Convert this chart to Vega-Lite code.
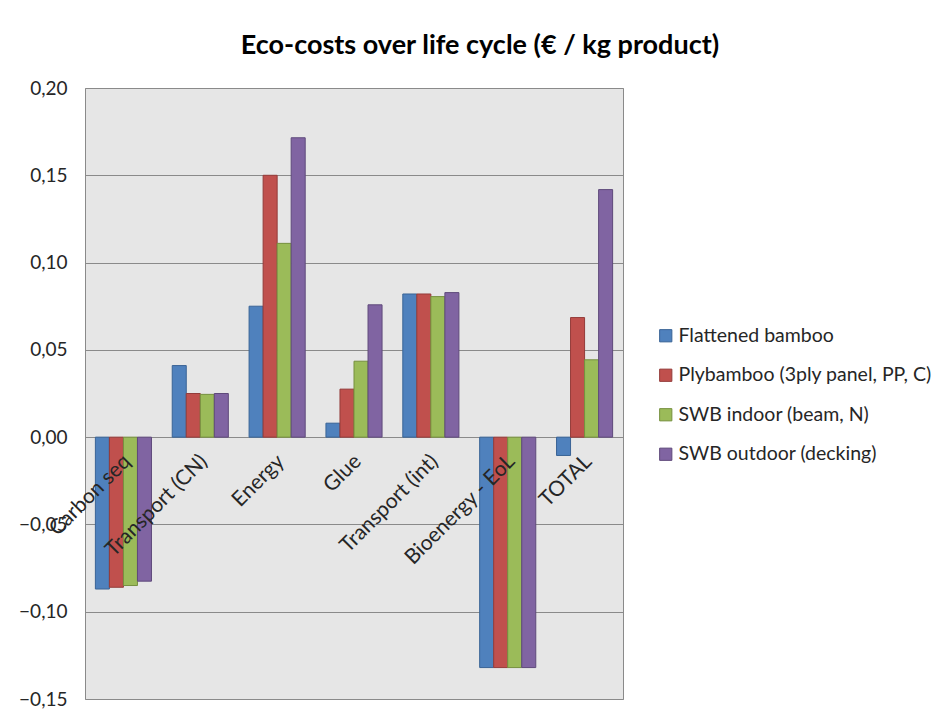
{
  "$schema": "https://vega.github.io/schema/vega-lite/v6.json",
  "autosize": {"type": "none"},
  "padding": {"left": 85, "top": 88, "right": 323, "bottom": 16},
  "width": 538,
  "height": 611,
  "background": "white",
  "title": {
    "text": "Eco-costs over life cycle (€ / kg product)",
    "font": "Lato",
    "fontSize": 27,
    "fontWeight": "bold",
    "color": "#000000",
    "anchor": "middle",
    "frame": "group",
    "dx": 126,
    "offset": 19
  },
  "config": {
    "view": {"fill": "#e6e6e6", "stroke": "#8a8a8a", "strokeWidth": 1},
    "font": "Lato"
  },
  "data": {
    "values": [
      {"category": "Carbon seq", "product": "Flattened bamboo", "value": -0.087},
      {"category": "Carbon seq", "product": "Plybamboo (3ply panel, PP, C)", "value": -0.086},
      {"category": "Carbon seq", "product": "SWB indoor (beam, N)", "value": -0.085},
      {"category": "Carbon seq", "product": "SWB outdoor (decking)", "value": -0.0825},
      {"category": "Transport (CN)", "product": "Flattened bamboo", "value": 0.041},
      {"category": "Transport (CN)", "product": "Plybamboo (3ply panel, PP, C)", "value": 0.025},
      {"category": "Transport (CN)", "product": "SWB indoor (beam, N)", "value": 0.0245},
      {"category": "Transport (CN)", "product": "SWB outdoor (decking)", "value": 0.025},
      {"category": "Energy", "product": "Flattened bamboo", "value": 0.075},
      {"category": "Energy", "product": "Plybamboo (3ply panel, PP, C)", "value": 0.150},
      {"category": "Energy", "product": "SWB indoor (beam, N)", "value": 0.111},
      {"category": "Energy", "product": "SWB outdoor (decking)", "value": 0.1715},
      {"category": "Glue", "product": "Flattened bamboo", "value": 0.008},
      {"category": "Glue", "product": "Plybamboo (3ply panel, PP, C)", "value": 0.0275},
      {"category": "Glue", "product": "SWB indoor (beam, N)", "value": 0.0435},
      {"category": "Glue", "product": "SWB outdoor (decking)", "value": 0.0758},
      {"category": "Transport (int)", "product": "Flattened bamboo", "value": 0.082},
      {"category": "Transport (int)", "product": "Plybamboo (3ply panel, PP, C)", "value": 0.082},
      {"category": "Transport (int)", "product": "SWB indoor (beam, N)", "value": 0.0805},
      {"category": "Transport (int)", "product": "SWB outdoor (decking)", "value": 0.0828},
      {"category": "Bioenergy - EoL", "product": "Flattened bamboo", "value": -0.132},
      {"category": "Bioenergy - EoL", "product": "Plybamboo (3ply panel, PP, C)", "value": -0.132},
      {"category": "Bioenergy - EoL", "product": "SWB indoor (beam, N)", "value": -0.132},
      {"category": "Bioenergy - EoL", "product": "SWB outdoor (decking)", "value": -0.132},
      {"category": "TOTAL", "product": "Flattened bamboo", "value": -0.0105},
      {"category": "TOTAL", "product": "Plybamboo (3ply panel, PP, C)", "value": 0.0685},
      {"category": "TOTAL", "product": "SWB indoor (beam, N)", "value": 0.0443},
      {"category": "TOTAL", "product": "SWB outdoor (decking)", "value": 0.1418}
    ]
  },
  "mark": {"type": "bar", "strokeWidth": 1},
  "encoding": {
    "x": {
      "field": "category",
      "type": "nominal",
      "sort": null,
      "scale": {"paddingInner": 0.27, "paddingOuter": 0.135},
      "axis": {
        "title": null,
        "orient": "bottom",
        "offset": -262,
        "zindex": 1,
        "domain": false,
        "ticks": false,
        "labelAngle": -45,
        "labelAlign": "right",
        "labelBaseline": "middle",
        "labelPadding": 21,
        "labelOffset": 4,
        "labelFont": "Lato",
        "labelFontSize": 21,
        "labelColor": "#262626",
        "labelOverlap": false,
        "labelLimit": 400
      }
    },
    "xOffset": {
      "field": "product",
      "type": "nominal",
      "sort": null,
      "scale": {"paddingInner": 0, "paddingOuter": 0}
    },
    "y": {
      "field": "value",
      "type": "quantitative",
      "scale": {"domain": [-0.15, 0.2], "nice": false, "zero": false},
      "axis": {
        "title": null,
        "values": [-0.15, -0.1, -0.05, 0, 0.05, 0.1, 0.15, 0.2],
        "labelExpr": "replace(format(datum.value, '.2f'), '.', ',')",
        "domain": false,
        "ticks": false,
        "grid": true,
        "gridColor": "#8a8a8a",
        "gridWidth": 1,
        "gridOpacity": 1,
        "labelFont": "Lato",
        "labelFontSize": 19,
        "labelColor": "#262626",
        "labelPadding": 18
      }
    },
    "color": {
      "field": "product",
      "type": "nominal",
      "sort": null,
      "scale": {"range": ["#4f81bd", "#c0504d", "#9bbb59", "#8064a2"]},
      "legend": {
        "title": null,
        "orient": "none",
        "legendX": 571,
        "legendY": 238,
        "symbolType": "square",
        "symbolSize": 150,
        "symbolStrokeWidth": 1,
        "labelFont": "Lato",
        "labelFontSize": 19.5,
        "labelColor": "#262626",
        "rowPadding": 18.5,
        "labelOffset": 3,
        "labelLimit": 400
      }
    },
    "stroke": {
      "field": "product",
      "type": "nominal",
      "sort": null,
      "scale": {"range": ["#3a6496", "#943c3a", "#76903f", "#5f4a7b"]},
      "legend": null
    }
  }
}
